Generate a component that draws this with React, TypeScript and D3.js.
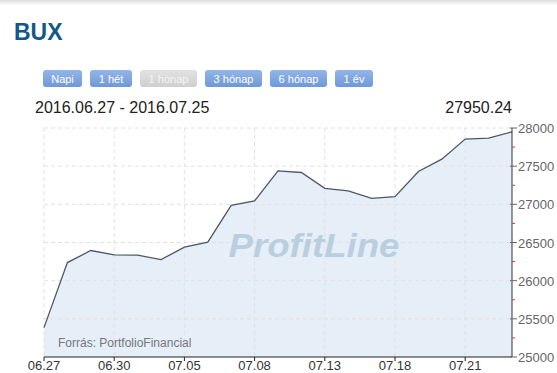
import React from "react";
import * as d3 from "d3";

const dates = ["06.27","06.28","06.29","06.30","07.01","07.04","07.05","07.06","07.07","07.08","07.11","07.12","07.13","07.14","07.15","07.18","07.19","07.20","07.21","07.22","07.25"];
const values = [25385,26237,26395,26338,26335,26276,26438,26504,26987,27044,27439,27417,27210,27175,27079,27101,27430,27592,27855,27868,27950.24];
const xTickLabels = ["06.27","06.30","07.05","07.08","07.13","07.18","07.21"];
const yTicks = [25000,25500,26000,26500,27000,27500,28000];
const buttons = [
  { label: "Napi", x0: 43, x1: 82, active: true },
  { label: "1 hét", x0: 90, x1: 132, active: true },
  { label: "1 hónap", x0: 140, x1: 197, active: false },
  { label: "3 hónap", x0: 205, x1: 262, active: true },
  { label: "6 hónap", x0: 270, x1: 327, active: true },
  { label: "1 év", x0: 335, x1: 373, active: true },
];

const W = 557, H = 373;
const left = 44, right = 512, top = 128, bottom = 357;

export default function App() {
  const x = d3.scalePoint<string>().domain(dates).range([left, right]);
  const y = d3.scaleLinear().domain([25000, 28000]).range([bottom, top]);
  const data = dates.map((d, i) => ({ d, v: values[i] }));
  const line = d3.line<{ d: string; v: number }>().x(p => x(p.d)!).y(p => y(p.v));
  const area = d3.area<{ d: string; v: number }>().x(p => x(p.d)!).y0(bottom).y1(p => y(p.v));
  const minor = d3.range(25250, 28000, 500);
  const font = "Arial, 'Liberation Sans', sans-serif";
  return (
    <svg width={W} height={H} style={{ position: "absolute", left: 0, top: 0, background: "#fff" }} fontFamily={font}>
      <defs>
        <linearGradient id="btn" x1="0" y1="0" x2="0" y2="1">
          <stop offset="0" stopColor="#93b6e8" />
          <stop offset="1" stopColor="#6f98d8" />
        </linearGradient>
        <linearGradient id="btnoff" x1="0" y1="0" x2="0" y2="1">
          <stop offset="0" stopColor="#e2e2e2" />
          <stop offset="1" stopColor="#cfcfcf" />
        </linearGradient>
        <linearGradient id="topbar" x1="0" y1="0" x2="0" y2="1">
          <stop offset="0" stopColor="#dcdcdc" />
          <stop offset="1" stopColor="#ffffff" />
        </linearGradient>
      </defs>
      <rect x={0} y={0} width={W} height={5} fill="url(#topbar)" />
      <text x={14} y={40} fontSize={23} fontWeight="bold" fill="#13588a">BUX</text>
      {buttons.map(b => (
        <g key={b.label}>
          <rect x={b.x0} y={70} width={b.x1 - b.x0} height={17} rx={3} fill={b.active ? "url(#btn)" : "url(#btnoff)"} />
          <text x={(b.x0 + b.x1) / 2} y={82.5} textAnchor="middle" fontSize={11} fill={b.active ? "#ffffff" : "#f4f4f4"}>{b.label}</text>
        </g>
      ))}
      <text x={35} y={113} fontSize={16} fill="#222">2016.06.27 - 2016.07.25</text>
      <text x={512} y={113} fontSize={16} fill="#222" textAnchor="end">{values[values.length - 1].toFixed(2)}</text>

      <path d={area(data)!} fill="#e6eef7" />
      {yTicks.slice(1).map(t => (
        <line key={t} x1={left} x2={right} y1={y(t)} y2={y(t)} stroke="#e2e2e2" strokeDasharray="4,3" />
      ))}
      {xTickLabels.map(t => (
        <line key={t} x1={x(t)!} x2={x(t)!} y1={top} y2={bottom} stroke="#e2e2e2" strokeDasharray="4,3" />
      ))}
      <text x={314} y={257} fontSize={33} fontWeight="bold" fontStyle="italic" fill="#b9cfe0" textAnchor="middle" textLength={171} lengthAdjust="spacingAndGlyphs">ProfitLine</text>
      <path d={line(data)!} fill="none" stroke="#4c5866" strokeWidth={1.3} />
      <text x={58} y={347} fontSize={12} fill="#777">Forrás: PortfolioFinancial</text>

      <line x1={left} x2={right} y1={bottom} y2={bottom} stroke="#222" strokeWidth={1} />
      {xTickLabels.map(t => (
        <g key={t}>
          <line x1={x(t)!} x2={x(t)!} y1={bottom} y2={bottom + 4} stroke="#222" />
          <text x={x(t)!} y={370} fontSize={13} fill="#333" textAnchor="middle">{t}</text>
        </g>
      ))}
      <line x1={right} x2={right} y1={top} y2={bottom} stroke="#333" />
      {minor.map(t => (
        <line key={t} x1={right} x2={right + 3} y1={y(t)} y2={y(t)} stroke="#d04040" />
      ))}
      {yTicks.map(t => (
        <g key={t}>
          <line x1={right - 2} x2={right + 5} y1={y(t)} y2={y(t)} stroke="#666" />
          <text x={518} y={y(t) + 5} fontSize={13} fill="#666">{t}</text>
        </g>
      ))}
    </svg>
  );
}
